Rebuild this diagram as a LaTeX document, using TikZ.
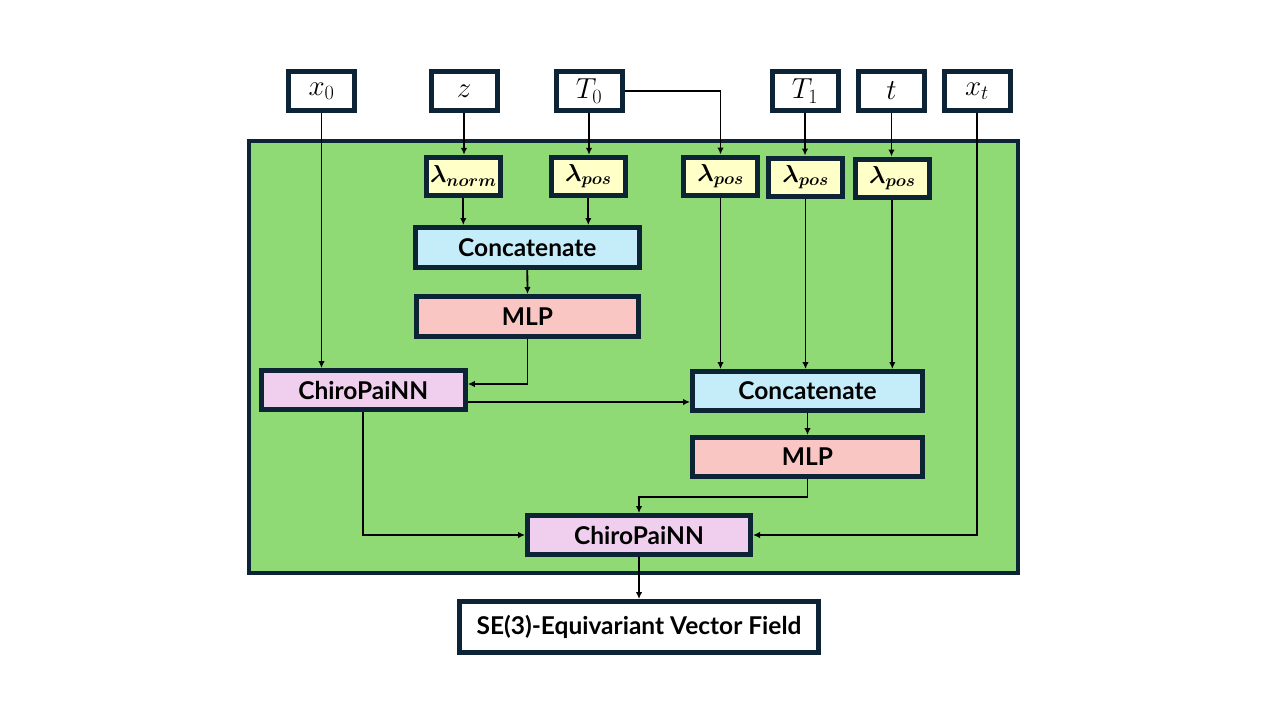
\documentclass[tikz,border=0pt]{standalone}
\usepackage{fix-cm}
\usepackage{fontspec}
\setmainfont{Lato}
\usepackage{amsmath}
\usepackage{bm}
\usetikzlibrary{arrows.meta,calc}
\definecolor{navy}{RGB}{12,36,53}
\definecolor{gfill}{RGB}{143,218,116}
\definecolor{yfill}{RGB}{255,255,200}
\definecolor{bfill}{RGB}{196,236,249}
\definecolor{pfill}{RGB}{250,198,196}
\definecolor{lfill}{RGB}{240,206,238}
\tikzset{
  box/.style={draw=navy, line width=5pt, rectangle, inner sep=0pt, align=center},
  inbox/.style={box, fill=white, minimum width=66pt, minimum height=39pt, font=\fontsize{29}{30}\selectfont},
  lam/.style={box, fill=yfill, minimum width=74pt, minimum height=38pt, font=\fontsize{24.5}{26}\selectfont},
  opbox/.style={box, minimum width=224pt, minimum height=40pt, font=\bfseries\fontsize{24.5}{26}\selectfont},
  conn/.style={draw=black, line width=1.8pt, -{Latex[length=7pt,width=6.5pt]}},
  plain/.style={draw=black, line width=1.8pt}
}
\begin{document}
\begin{tikzpicture}[x=1pt,y=-1pt]
\useasboundingbox (0,0) rectangle (1280,720);
% main green panel
\node[draw=navy, line width=4pt, fill=gfill, minimum width=769pt, minimum height=432pt, inner sep=0pt] (panel) at (633.5,357) {};
% inputs
\node[inbox] (x0) at (321.5,91) {$x_0$};
\node[inbox] (z) at (464,91) {$z$};
\node[inbox] (T0) at (589,91) {$T_0$};
\node[inbox] (T1) at (805,91) {$T_1$};
\node[inbox] (t) at (891.5,91) {$t$};
\node[inbox] (xt) at (977,91) {$x_t$};
% lambda boxes
\node[lam] (ln) at (463.3,176.3) {$\bm{\lambda}_{\bm{norm}}$};
\node[lam] (lp1) at (588.3,176.3) {$\bm{\lambda}_{\bm{pos}}$};
\node[lam] (lp2) at (720.5,176) {$\bm{\lambda}_{\bm{pos}}$};
\node[lam] (lp3) at (805.5,177) {$\bm{\lambda}_{\bm{pos}}$};
\node[lam] (lp4) at (892.3,178) {$\bm{\lambda}_{\bm{pos}}$};
% operation boxes
\node[opbox, fill=bfill, minimum width=224pt] (cat1) at (527.3,247.5) {Concatenate};
\node[opbox, fill=pfill, minimum width=222pt] (mlp1) at (527.5,316.5) {MLP};
\node[opbox, fill=lfill, minimum width=204pt, minimum height=39pt] (c1) at (363.3,390) {ChiroPaiNN};
\node[opbox, fill=bfill, minimum width=230pt, minimum height=39pt] (cat2) at (807.5,391) {Concatenate};
\node[opbox, fill=pfill, minimum width=230pt, minimum height=39pt] (mlp2) at (807.5,457) {MLP};
\node[opbox, fill=lfill, minimum width=223pt, minimum height=39pt] (c2) at (639,535) {ChiroPaiNN};
\node[opbox, fill=white, minimum width=359pt, minimum height=51pt] (se) at (639,627) {SE(3)-Equivariant Vector Field};
% connectors
\draw[conn] (x0.south) -- (x0.south |- c1.north);
\draw[conn] (z.south) -- (z.south |- ln.north);
\draw[conn] (T0.south) -- (T0.south |- lp1.north);
\draw[conn] (T0.east) -| (lp2.north);
\draw[conn] (T1.south) -- (T1.south |- lp3.north);
\draw[conn] (t.south) -- (t.south |- lp4.north);
\draw[conn] (xt.south) |- (c2.east);
\draw[conn] (ln.south) -- (ln.south |- cat1.north);
\draw[conn] (lp1.south) -- (lp1.south |- cat1.north);
\draw[conn] (cat1.south) -- (mlp1.north);
\coordinate (c1in) at ([yshift=6pt]c1.east);
\draw[conn] (mlp1.south) |- (c1in);
\coordinate (c1out) at ([yshift=-12pt]c1.east);
\draw[conn] (c1out) -- (c1out -| cat2.west);
\draw[conn] (lp2.south) -- (lp2.south |- cat2.north);
\draw[conn] (lp3.south) -- (lp3.south |- cat2.north);
\draw[conn] (lp4.south) -- (lp4.south |- cat2.north);
\draw[conn] (cat2.south) -- (mlp2.north);
\draw[conn] (mlp2.south) -- ++(0,18) -| (c2.north);
\draw[conn] (c1.south) |- (c2.west);
\draw[conn] (c2.south) -- (se.north);
\end{tikzpicture}
\end{document}
